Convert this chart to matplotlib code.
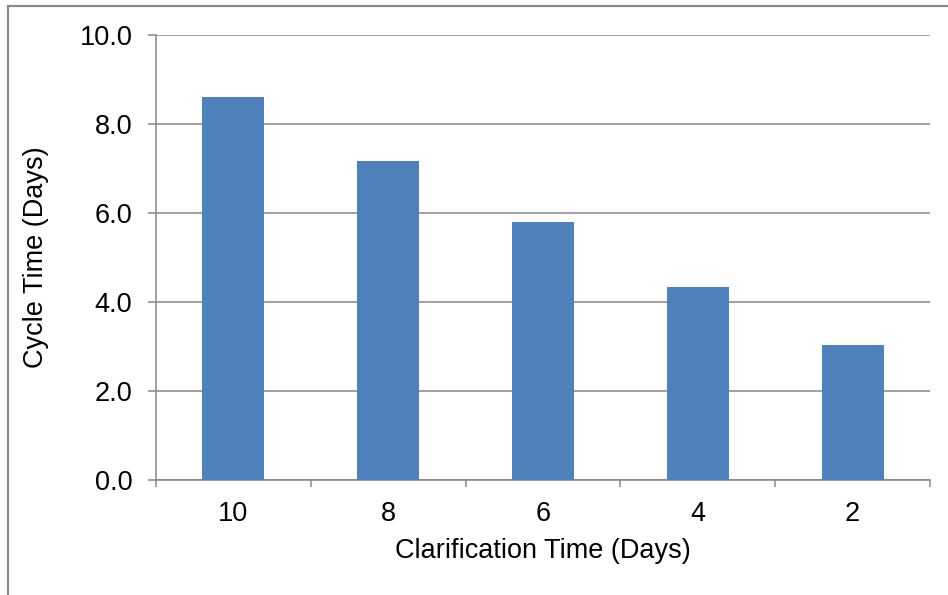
import matplotlib.pyplot as plt
from matplotlib.patches import Rectangle

plt.rcParams['font.family'] = ['Liberation Sans', 'DejaVu Sans']

clarification = ['10', '8', '6', '4', '2']
cycle_time = [8.61, 7.17, 5.80, 4.34, 3.04]

grey = '#868686'
fs = 19.5
fig = plt.figure(figsize=(9.48, 5.95), dpi=100)
ax = fig.add_axes([0.1646, 0.1933, 0.8164, 0.7479])

x = range(len(clarification))
ax.bar(x, cycle_time, width=0.4, color='#4F81BD', zorder=3)

ax.set_xlim(-0.5, len(clarification) - 0.5)
ax.set_ylim(0, 10)
ax.set_yticks([0, 2, 4, 6, 8, 10])
ax.set_yticklabels(['%.1f' % v for v in [0, 2, 4, 6, 8, 10]])
ax.set_xticks(list(x))
ax.set_xticklabels(clarification)
ax.set_xticks([i - 0.5 for i in range(len(clarification) + 1)], minor=True)

ax.yaxis.grid(True, color=grey, lw=1.1, zorder=0)
ax.tick_params(axis='y', length=6, width=1.1, color=grey, pad=11, labelsize=fs)
ax.tick_params(axis='x', which='major', length=0, pad=15, labelsize=fs)
ax.tick_params(axis='x', which='minor', length=5, width=1.1, color=grey)

for s in ['top', 'right']:
    ax.spines[s].set_visible(False)
for s in ['left', 'bottom']:
    ax.spines[s].set_color(grey)
    ax.spines[s].set_linewidth(1.1)

ax.set_xlabel('Clarification Time (Days)', fontsize=fs, labelpad=8)
ax.set_ylabel('Cycle Time (Days)', fontsize=fs, labelpad=22)

# outer chart frame, clipped by the figure edge on the right and bottom
fig.patches.append(Rectangle((8 / 948, -0.1), 1.2, 1.1 - 6 / 595,
                             transform=fig.transFigure, fill=False,
                             edgecolor='#898989', lw=1.6))

plt.savefig('out.png', dpi=100)
